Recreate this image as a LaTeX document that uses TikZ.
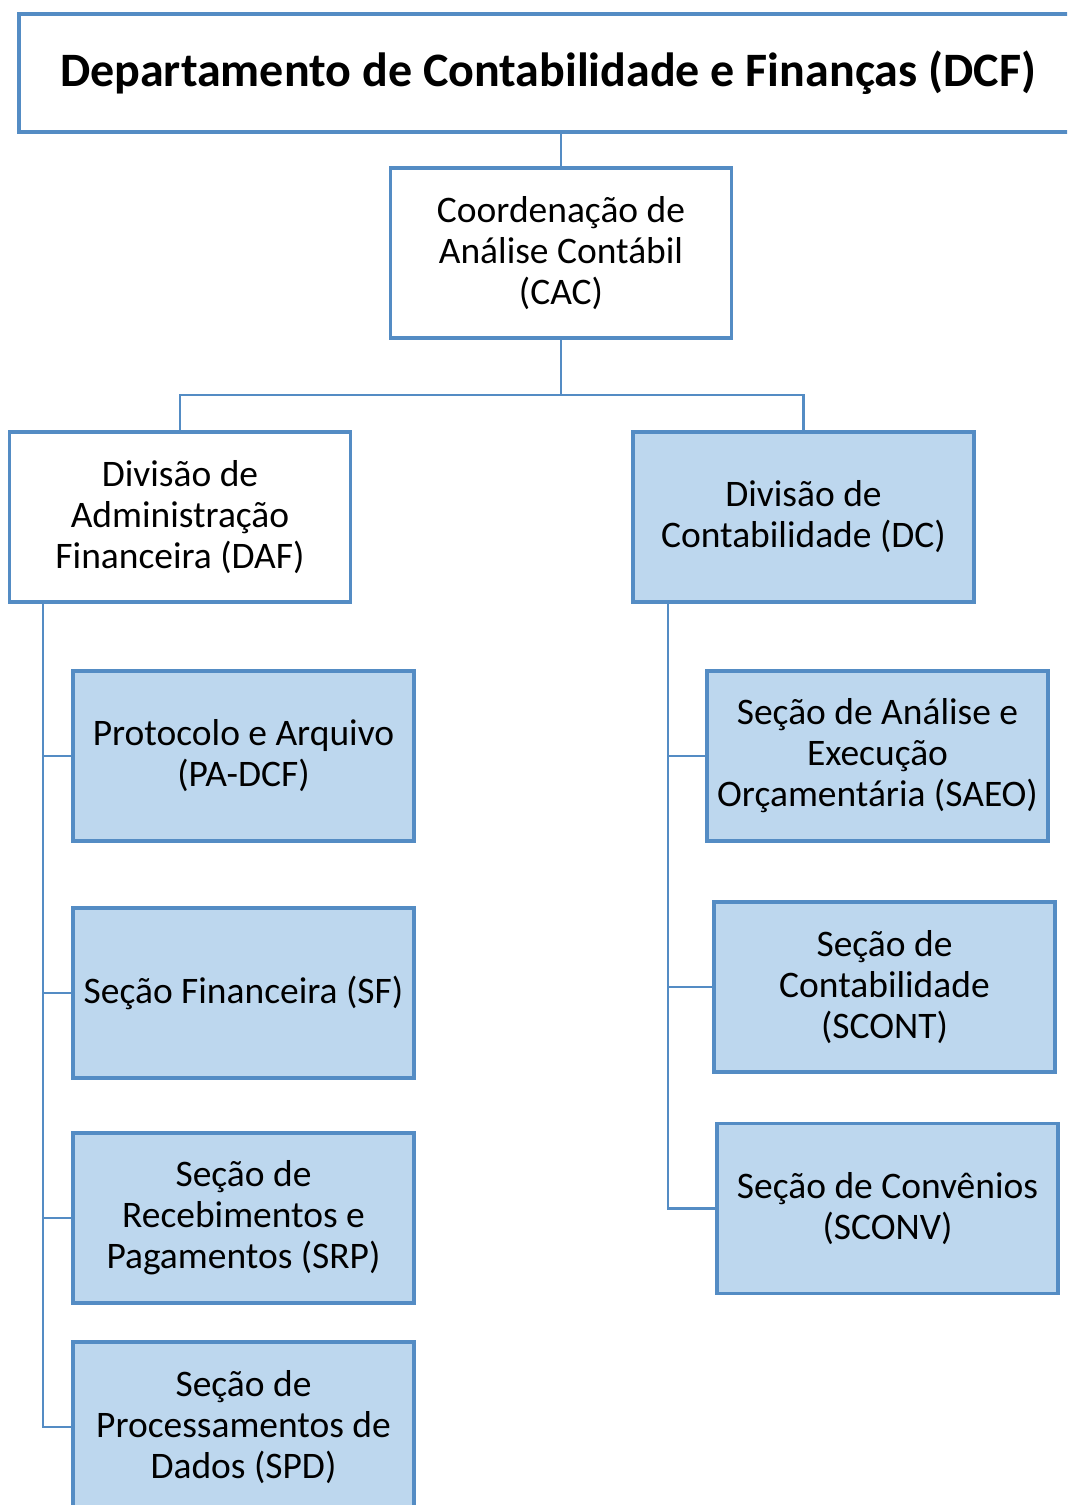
\documentclass[tikz,border=0pt]{standalone}
\usepackage{fontspec}
\setmainfont{Carlito}
\definecolor{bordblue}{RGB}{84,140,196}
\definecolor{fillblue}{RGB}{189,215,238}
\begin{document}
\begin{tikzpicture}[x=0.75pt,y=-0.75pt,
  box/.style={draw=bordblue,line width=2.6pt,align=center,inner sep=0pt,
    minimum width=255.5pt,minimum height=127.5pt,
    font=\fontsize{28.1pt}{30.75pt}\selectfont},
  whitebox/.style={box,fill=white},
  bluebox/.style={box,fill=fillblue},
  link/.style={draw=bordblue,line width=2pt}]
\useasboundingbox (0,0) rectangle (1067,1505);
\clip (0,0) rectangle (1067,1505);
\node[whitebox,minimum width=793.5pt,minimum height=88.5pt,
  font=\fontsize{36pt}{40pt}\selectfont\bfseries] (title) at (548,73)
  {Departamento de Contabilidade e Finanças (DCF)};
\node[whitebox] (CAC) at (561,253) {Coordenação de\\Análise Contábil\\(CAC)};
\node[whitebox] (DAF) at (180,517) {Divisão de\\Administração\\Financeira (DAF)};
\node[bluebox] (DC) at (803.5,517) {Divisão de\\Contabilidade (DC)};
\node[bluebox] (PA) at (243.5,756) {Protocolo e Arquivo\\(PA-DCF)};
\node[bluebox] (SF) at (243.5,993) {Seção Financeira (SF)};
\node[bluebox] (SRP) at (243.5,1218) {Seção de\\Recebimentos e\\Pagamentos (SRP)};
\node[bluebox] (SPD) at (243.5,1427) {Seção de\\Processamentos de\\Dados (SPD)};
\node[bluebox] (SAEO) at (877.5,756) {Seção de Análise e\\Execução\\Orçamentária (SAEO)};
\node[bluebox] (SCONT) at (884.5,987) {Seção de\\Contabilidade\\(SCONT)};
\node[bluebox] (SCONV) at (887.5,1208.5) {Seção de Convênios\\(SCONV)};
\coordinate (bus) at (561,395);
\draw[link] (CAC.north |- title.south) -- (CAC.north);
\draw[link] (CAC.south) -- (bus) -| (DAF.north);
\draw[link] (bus) -| (DC.north);
\coordinate (lbus) at (43,601);
\coordinate (rbus) at (668,601);
\draw[link] (lbus |- DAF.south) |- (SPD.west);
\draw[link] (lbus) |- (PA.west);
\draw[link] (lbus) |- (SF.west);
\draw[link] (lbus) |- (SRP.west);
\draw[link] (rbus |- DC.south) |- (SCONV.west);
\draw[link] (rbus) |- (SAEO.west);
\draw[link] (rbus) |- (SCONT.west);
\end{tikzpicture}
\end{document}
